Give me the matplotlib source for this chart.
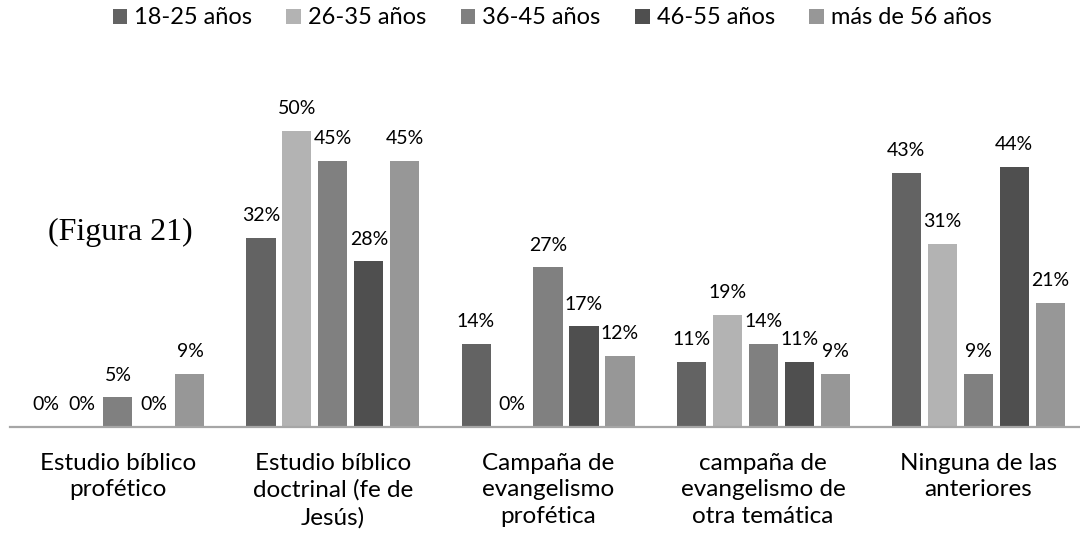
import matplotlib.pyplot as plt
import numpy as np

# datos (porcentajes)
categorias = ["Estudio bíblico\nprofético",
              "Estudio bíblico\ndoctrinal (fe de\nJesús)",
              "Campaña de\nevangelismo\nprofética",
              "campaña de\nevangelismo de\notra temática",
              "Ninguna de las\nanteriores"]
grupos = ["18-25 años", "26-35 años", "36-45 años", "46-55 años", "más de 56 años"]
edad_18_25 = [0, 32, 14, 11, 43]
edad_26_35 = [0, 50, 0, 19, 31]
edad_36_45 = [5, 45, 27, 14, 9]
edad_46_55 = [0, 28, 17, 11, 44]
edad_56_mas = [9, 45, 12, 9, 21]

series = [edad_18_25, edad_26_35, edad_36_45, edad_46_55, edad_56_mas]
colores = ["#636363", "#b3b3b3", "#808080", "#4f4f4f", "#979797"]

plt.rcParams['font.family'] = ['Lato', 'DejaVu Sans']

fig = plt.figure(figsize=(10.8, 5.44), dpi=100)
ax = fig.add_axes([10 / 1080, 117 / 544, 1 - 10 / 1080, 355 / 544])

x = np.arange(len(categorias))
paso = 0.1674
ancho = 0.135
for i, (valores, color, nombre) in enumerate(zip(series, colores, grupos)):
    pos = x + (i - 2) * paso
    barras = ax.bar(pos, valores, ancho, color=color, label=nombre, zorder=2)
    for b, v in zip(barras, valores):
        ax.annotate(f"{v}%", (b.get_x() + b.get_width() / 2, v),
                    xytext=(0, 16), textcoords="offset points",
                    ha="center", va="center", fontsize=14, color="black")

ax.set_xlim(-0.502, 4.474)
ax.set_ylim(0, 60)
ax.set_yticks([])
ax.set_xticks(x)
ax.set_xticklabels(categorias, fontsize=17.5, linespacing=1.33)
ax.tick_params(axis="x", length=0, pad=18.5)
for lado in ["top", "left", "right"]:
    ax.spines[lado].set_visible(False)
ax.spines["bottom"].set_color("#a6a6a6")
ax.spines["bottom"].set_linewidth(1.6)

fig.legend(loc="center", bbox_to_anchor=(552 / 1080, 1 - 18 / 544), ncol=5,
           frameon=False, fontsize=17, handlelength=0.62, handleheight=0.62,
           handletextpad=0.3, columnspacing=1.45, borderpad=0)

fig.text(48 / 1080, 1 - 232 / 544, "(Figura 21)", family="Liberation Serif",
         fontsize=23, ha="left", va="center")

fig.savefig("out.png", dpi=100)
